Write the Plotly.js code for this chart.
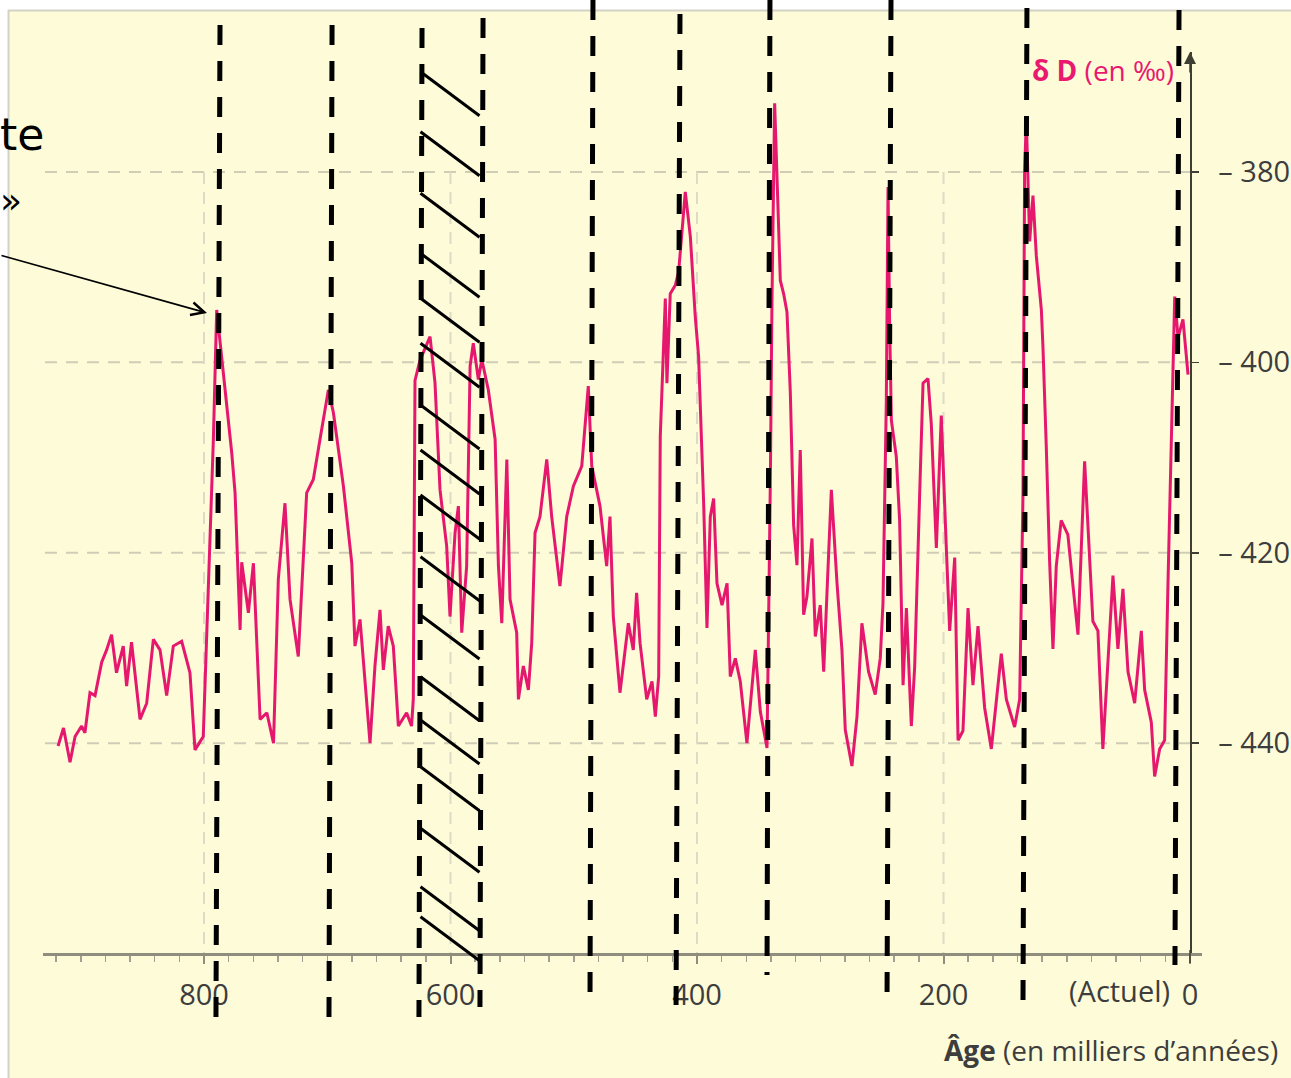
<!DOCTYPE html>
<html><head><meta charset="utf-8">
<script src="https://cdn.plot.ly/plotly-3.0.1.min.js"></script>
<style>html,body{margin:0;padding:0;background:#fff}#chart{width:1291px;height:1078px}</style>
</head><body><div id="chart"></div>
<script>
// ---- data: age (thousands of years) and deltaD (per mil) ----
const ageKyr = [918.4,914,908.7,904.6,899.3,896.6,892.5,888.4,883,879,875,871,865.5,862.8,858.8,851.9,846.5,841.1,835.7,830.3,824.9,818.1,811.4,807.3,800.6,797.8,792.4,789.7,785.7,783,777.5,774.8,770.7,769.4,764,759.9,754.5,749,743.6,739.7,734.3,730.2,723.5,716.7,711.3,705.9,699.1,695,686.9,680.1,677.5,673.4,669.4,665.3,661.3,657.2,654.5,650.5,646.4,642.3,635.6,631.6,
630.2,628.8,624.8,616.6,612.6,608.5,603.1,600.4,596.3,593.6,590.9,586.9,584.1,581.5,577.4,574.6,569.3,563.8,561.1,558.4,554.3,551.7,546.3,544.9,540.9,536.8,534.1,531.4,527.4,521.9,517.9,511.2,505.7,500.3,493.5,488.2,485.4,478.7,473.3,470.6,467.9,462.5,455.7,451.7,449,446.2,440.8,
436.5,433.8,431.1,429.8,427.1,425.7,424.4,421.7,417.6,414.9,409.5,405.4,401.4,398.7,394.6,391.9,389.2,386.5,383.8,379.7,375.6,373,368.9,364.9,359.5,352.7,348.6,343.2,340.5,339.2,337,332.4,329.7,327,324.3,321.6,318.9,316.2,313.5,310.8,306.7,304,300,297.2,294.5,291,286.4,282.4,279.7,274.3,270.2,266.2,260.8,255.4,251.3,
249.1,246.4,245,243.7,242.3,238.3,235.6,232.8,230.1,226.1,223.4,219.3,216.6,212.6,209.9,205.8,201.8,197.7,195,190.9,188.2,184.2,180.1,176.1,172,166.6,161.2,153.1,149,142.3,138.2,135.5,134.2,132.8,130.1,127.4,124.7,120.6,119.3,116.6,113.9,111.2,108.5,104.5,99.1,95,90.9,85.5,82.8,78.8,74.7,70.7,66.6,62.5,58.5,54.4,50.3,44.9,39.5,36.8,31.4,28.7,24.6,20.6,17.9,15.1,12.4,9.7,5.7,1.6];
const deltaD = [-440.3,-438.4,-442,-439.3,-438.2,-438.9,-434.7,-435,-431.5,-430.2,-428.6,-432.6,-429.8,-434,-429.4,-437.5,-435.8,-429.1,-430.2,-435,-429.8,-429.3,-432.6,-440.7,-439.3,-428.1,-408.1,-394.5,-399.4,-402.9,-409.5,-413.7,-428.1,-421,-426.3,-421.1,-437.5,-436.8,-440,-422.8,-414.8,-424.9,-430.9,-413.7,-412.3,-408.1,-402.9,-405.3,-413,-421.1,-429.8,-427,-433.3,-440,-431.9,-426,-432.3,-427.7,-429.8,-438.2,-436.8,-438.2,
-435.4,-401.9,-399.8,-397.3,-402.1,-413.4,-419.3,-426.7,-417.9,-415.1,-428.4,-421.4,-400.4,-398,-401.8,-399.7,-402.9,-408.1,-421.4,-427.4,-410.2,-424.9,-428.4,-435.4,-431.9,-434.4,-429.5,-417.9,-416.2,-410.2,-416.2,-423.5,-416.2,-413,-410.9,-402.5,-410.9,-415.1,-421.4,-416.2,-426.7,-434.7,-427.4,-430.2,-424.2,-429.5,-435.4,
-433.5,-437.2,-433,-407.8,-397.5,-393.3,-402.2,-392.8,-391.9,-390.5,-382.1,-386.8,-395.2,-399.4,-414.8,-427.9,-416.2,-414.3,-423.2,-425.5,-423.2,-433,-431.1,-433.5,-440,-430.2,-436.7,-440.5,-412.5,-393.8,-372.8,-391.4,-392.8,-394.7,-403.1,-417.1,-421.3,-409.2,-426.5,-424.6,-418.5,-428.8,-425.5,-432.5,-424.1,-413.4,-423.2,-430.2,-438.6,-442.4,-437.2,-427.4,-432.5,-434.9,-431.1,
-425.3,-404.1,-381.6,-396,-406.1,-409.9,-416.6,-433.9,-425.8,-438.2,-432,-413.7,-402.2,-401.7,-406.5,-419.5,-405.6,-419.5,-428.2,-420.5,-439.7,-438.7,-425.8,-433.9,-427.7,-436.3,-440.6,-430.6,-435.4,-438.3,-435.4,-413.7,-380.1,-374.4,-387.3,-382.5,-388.8,-394.5,-398.4,-408.9,-420.9,-430.1,-421.4,-416.6,-418.1,-423.4,-428.6,-410.4,-417.1,-427.2,-428.2,-440.6,-431.5,-422.4,-430.1,-423.8,-432.5,-435.8,-428.2,-434.4,-437.8,-443.5,-440.6,-439.7,-423.4,-408.9,-393.1,-397.4,-395.5,-401.3];

const xTickVals = [800, 600, 400, 200, 0];
const xTickText = ['800', '600', '400', '200', '0'];
const yTickVals = [-380, -400, -420, -440];
const yTickText = ['– 380', '– 400', '– 420', '– 440'];

// hand-drawn overlay: dashed markers (age at top / bottom of stroke)
const markTopAge = [787.0, 696.1, 623.1, 573.6, 484.4, 413.8, 340.8, 242.6, 132.3, 8.9];
const markBotAge = [790.3, 698.6, 625.6, 576.1, 486.8, 417.0, 343.2, 245.8, 135.5, 12.2];

// ---- geometry (pixels in the 1291x1078 figure) ----
const W = 1291, H = 1078, L = 43, R = 1202, T = 52, B = 953;
const markTopPx = [25, 25, 28, 18, 0, 14, 0, 0, 8, 10];
const markBotPx = [1017, 1017, 1017, 1007, 995, 1005, 975, 995, 1000, 965];
const hatchLeftPx = [71.7,131.7,193.3,253.3,298.3,343.3,405,450,495,556.7,615,676.7,720,766.7,828.3,886.7,916.7];
const pxX = px => (px - L) / (R - L);
const pxY = py => (B - py) / (B - T);
const ageOfPx = px => (1190 - px) / 1.2325;

const GRID = '#cfcdb6';
const shapes = [];
// outer white frame + border
shapes.push({type:'rect', xref:'paper', yref:'paper', x0:pxX(0), x1:pxX(W), y0:pxY(10), y1:pxY(0), fillcolor:'#ffffff', line:{width:0}, layer:'below'});
shapes.push({type:'rect', xref:'paper', yref:'paper', x0:pxX(0), x1:pxX(8), y0:pxY(H), y1:pxY(0), fillcolor:'#ffffff', line:{width:0}, layer:'below'});
shapes.push({type:'line', xref:'paper', yref:'paper', x0:pxX(8.5), x1:pxX(8.5), y0:pxY(H), y1:pxY(10), line:{color:'#d3d2c6', width:2}, layer:'below'});
shapes.push({type:'line', xref:'paper', yref:'paper', x0:pxX(8), x1:pxX(W), y0:pxY(10.5), y1:pxY(10.5), line:{color:'#d3d2c6', width:2}, layer:'below'});
// grid lines
yTickVals.forEach(v => shapes.push({type:'line', xref:'x', yref:'y', x0:ageOfPx(45), x1:0, y0:v, y1:v, line:{color:GRID, width:2, dash:'12px,9px'}, layer:'below'}));
xTickVals.filter(v => v > 0).forEach(v => shapes.push({type:'line', xref:'x', yref:'y', x0:v, x1:v, y0:-380, y1:-470, line:{color:'#dddbc6', width:2, dash:'12px,8px'}, layer:'below'}));
// y-axis line continues slightly below the x axis
shapes.push({type:'line', xref:'paper', yref:'paper', x0:pxX(1190), x1:pxX(1190), y0:pxY(963), y1:pxY(950), line:{color:'#3f3e33', width:1.5}});
// dashed hand-drawn markers
markTopAge.forEach((a, i) => shapes.push({type:'line', xref:'x', yref:'paper', x0:a, x1:markBotAge[i], y0:pxY(markTopPx[i]), y1:pxY(markBotPx[i]), line:{color:'#000', width:5, dash:'20px,16px'}}));
// hatching
hatchLeftPx.forEach(y => shapes.push({type:'line', xref:'x', yref:'paper', x0:ageOfPx(420.5), x1:ageOfPx(479.5), y0:pxY(y), y1:pxY(y + 44), line:{color:'#000', width:3}}));

const TF = 'Open Sans, Noto Sans, sans-serif';
const annotations = [
  {xref:'paper', yref:'paper', x:pxX(1176), y:pxY(70), xanchor:'right', yanchor:'middle', showarrow:false,
   text:'<b>δ D</b> (en ‰)', font:{family:TF, size:28, color:'#e8196e'}},
  {xref:'paper', yref:'paper', x:pxX(1172), y:pxY(990), xanchor:'right', yanchor:'middle', showarrow:false,
   text:'(Actuel)', font:{family:TF, size:29, color:'#3d3d3d'}},
  {xref:'paper', yref:'paper', x:pxX(1280), y:pxY(1050), xanchor:'right', yanchor:'middle', showarrow:false,
   text:'<b>Âge</b> (en milliers d’années)', font:{family:TF, size:28, color:'#3d3d3d'}},
  {xref:'x', yref:'paper', x:0, y:1, ax:0, ay:22, text:'', showarrow:true, arrowhead:2, arrowsize:1.6, arrowwidth:1.5, arrowcolor:'#3f3e33'},
  {xref:'paper', yref:'paper', x:pxX(46), y:pxY(135), xanchor:'right', yanchor:'middle', showarrow:false,
   text:'te', font:{family:'DejaVu Sans, sans-serif', size:44, color:'#000'}},
  {xref:'paper', yref:'paper', x:pxX(24), y:pxY(200), xanchor:'right', yanchor:'middle', showarrow:false,
   text:'»', font:{family:'DejaVu Sans, sans-serif', size:36, color:'#000'}},
  {xref:'paper', yref:'paper', x:pxX(207), y:pxY(313), ax:-207, ay:-58, text:'', showarrow:true, arrowhead:5, arrowsize:1.6, arrowwidth:1.6, arrowcolor:'#000', standoff:0}
];

const data = [{type:'scatter', mode:'lines', x:ageKyr, y:deltaD, line:{color:'#e5186d', width:3}, hoverinfo:'skip'}];

const layout = {
  width:W, height:H, margin:{l:L, r:W-R, t:T, b:H-B, pad:0},
  paper_bgcolor:'#fdfbd8', plot_bgcolor:'rgba(0,0,0,0)', showlegend:false,
  xaxis:{range:[ageOfPx(L), ageOfPx(R)], tickmode:'array', tickvals:xTickVals, ticktext:xTickText,
    ticks:'outside', ticklen:8, tickwidth:2, tickcolor:'#8e8d7e', showline:true, linecolor:'#8e8d7e', linewidth:3,
    showgrid:false, zeroline:false, tickfont:{family:TF, size:29, color:'#3d3d3d'}, ticklabelstandoff:6,
    minor:{tickmode:'linear', tick0:0, dtick:20, ticks:'outside', ticklen:6, tickwidth:1.5, tickcolor:'#a09f90', showgrid:false}},
  yaxis:{range:[-440-(B-743)/9.53, -380+(172-T)/9.53], tickmode:'array', tickvals:yTickVals, ticktext:yTickText,
    side:'right', anchor:'free', position:pxX(1190), ticks:'outside', ticklen:7, tickwidth:1.5, tickcolor:'#3f3e33',
    showline:true, linecolor:'#3f3e33', linewidth:1.5, showgrid:false, zeroline:false,
    tickfont:{family:TF, size:29, color:'#3d3d3d'}, ticklabelstandoff:14},
  shapes:shapes, annotations:annotations
};
Plotly.newPlot('chart', data, layout, {staticPlot:true});
</script></body></html>
